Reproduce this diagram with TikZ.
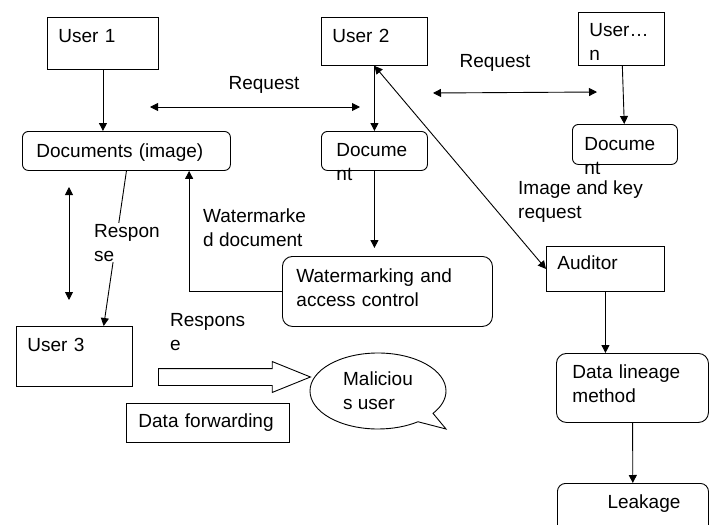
\documentclass[tikz,border=0pt]{standalone}
\usepackage{fontspec}
\setmainfont{Liberation Sans}
\usepackage{tikz}
\usetikzlibrary{arrows.meta,positioning,calc,shapes.arrows,shapes.callouts}
\newcommand{\diagfont}{\fontsize{19}{24}\selectfont}
\tikzset{
  every picture/.append style={font=\diagfont},
  bx/.style      = {draw, line width=0.9pt, anchor=north west, align=left,
                    inner ysep=0pt},
  rbx/.style     = {bx, rounded corners=6pt},
  rbxl/.style    = {bx, rounded corners=10pt},
  arr/.style     = {-{Triangle[length=8pt,width=8pt]}, line width=0.9pt},
  dblarr/.style  = {{Triangle[length=8pt,width=8pt]}-{Triangle[length=8pt,width=8pt]},
                    line width=0.9pt},
  lab/.style     = {inner sep=1pt, align=left},
  fwdarr/.style  = {single arrow, draw, line width=0.9pt, fill=white,
                    minimum height=152pt, minimum width=30pt,
                    inner xsep=0pt, inner ysep=8pt,
                    single arrow head extend=7pt, single arrow tip angle=44,
                    single arrow head indent=0pt},
  malbx/.style   = {ellipse callout, draw, line width=0.9pt, fill=white,
                    minimum width=136pt, minimum height=76pt, inner sep=0pt,
                    align=left, callout pointer arc=18},
}

\begin{document}
\begin{tikzpicture}[x=1pt,y=-1pt]
  \useasboundingbox (0,0) rectangle (713,525);
  % users and their documents
  \node[bx, inner xsep=11pt, text width=89pt, text height=25pt, text depth=27pt]
    (user1) at (47,17) {User 1};
  \node[bx, inner xsep=11pt, text width=84pt, text height=25pt, text depth=23pt]
    (user2) at (321,17) {User 2};
  \node[bx, inner xsep=11pt, text width=64pt, text height=24pt, text depth=29pt]
    (usern) at (578,12) {User…\\n};
  \node[rbx, inner xsep=14pt, text width=180pt, text height=26pt, text depth=13pt]
    (docsimg) at (22,131) {Documents (image)};
  \node[rbx, inner xsep=15pt, text width=76pt, text height=25pt, text depth=14pt]
    (docmid) at (321,131) {Docume\\nt};
  \node[rbx, inner xsep=12pt, text width=81pt, text height=26pt, text depth=14pt]
    (docright) at (572,124) {Docume\\nt};
  \node[bx, inner xsep=11pt, text width=94pt, text height=25pt, text depth=35pt]
    (user3) at (16,326) {User 3};

  % processing chain
  \node[rbxl, inner xsep=14pt, text width=182pt, text height=26pt, text depth=44pt]
    (wm) at (282,256) {Watermarking and\\access control};
  \node[bx, inner xsep=11pt, text width=96pt, text height=23pt, text depth=22pt]
    (auditor) at (546,246) {Auditor};
  \node[rbxl, inner xsep=16pt, text width=120pt, text height=25pt, text depth=44pt]
    (lineage) at (556,353) {Data lineage\\method};
  \node[rbx, rounded corners=8pt, inner xsep=28pt, text width=95pt, align=right,
        text height=25pt, text depth=40pt]
    (leakage) at (557,483) {Leakage};

  % forwarding to the malicious user
  \node[fwdarr, anchor=tail] (fwdarrow) at (158,377) {};
  \node[malbx, callout absolute pointer={(446,429)}] (malicious) at (378,391)
    {Maliciou\\s user};
  \node[bx, inner xsep=12pt, text width=139pt, text height=24pt, text depth=15pt]
    (fwd) at (126,403) {Data forwarding};
  \node[lab, anchor=base west] (resplab2) at (169,350) {Respons\\e};

  \coordinate (reqa) at (150,107);
  \coordinate (reqb) at (360,107);
  \coordinate (reqc) at (433,93);
  \coordinate (reqd) at (597,92);
  \coordinate (updn1) at (69,187);
  \coordinate (updn2) at (69,300);

  \draw[arr] (user1.south) -- (user1.south |- docsimg.north);
  \draw[arr] (user2) -- (docmid);
  \draw[arr] (usern) -- (docright);
  \draw[arr, shorten >=8pt] (docmid) -- (docmid.south |- wm.north);
  \draw[arr] (auditor.south) -- (auditor.south |- lineage.north);
  \draw[arr] (lineage) -- (leakage);

  \draw[dblarr] (reqa) -- (reqb);
  \node[lab, anchor=base] (reqlab1) at (264,89) {Request};
  \draw[dblarr] (reqc) -- (reqd);
  \node[lab, anchor=base] (reqlab2) at (495,67) {Request};
  \draw[dblarr] (updn1) -- (updn2);

  \draw[arr] (docsimg.south) -- ($(user3.north west)!0.75!(user3.north east)$);
  \node[lab, anchor=base west, fill=white] (resplab1) at (93,261) {Respon\\se};

  \draw[arr] (wm.west) -| ($(docsimg.south west)!0.8!(docsimg.south east)$);
  \node[lab, anchor=base west] (wmlab) at (202,246) {Watermarke\\d document};

  \draw[dblarr] (user2.south) -- (auditor.west);
  \node[lab, anchor=base west, fill=white, inner ysep=6pt] (keylab) at (517,218)
    {Image and key\\request};
\end{tikzpicture}
\end{document}
